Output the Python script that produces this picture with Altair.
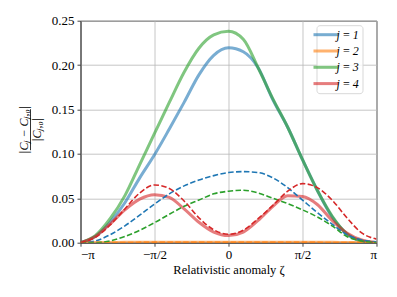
import altair as alt
import pandas as pd

# zeta in units of pi
zeta = [-1.0, -0.9, -0.8, -0.7, -0.6, -0.5, -0.4, -0.3, -0.2, -0.1, 0.0,
        0.1, 0.2, 0.3, 0.4, 0.5, 0.6, 0.7, 0.8, 0.9, 1.0]

labels = ["j\u2009=\u20091", "j\u2009=\u20092", "j\u2009=\u20093", "j\u2009=\u20094"]
colors = ["#1f77b4", "#ff7f0e", "#2ca02c", "#d62728"]

j1_solid = [0.0, 0.007, 0.023, 0.045, 0.073, 0.099, 0.128, 0.158, 0.189, 0.211, 0.2195,
            0.215, 0.197, 0.161, 0.130, 0.0935, 0.059, 0.029, 0.010, 0.002, 0.0]
j2_solid = [0.0, 0.0002, 0.0003, 0.0004, 0.0005, 0.0005, 0.0005, 0.0005, 0.0005, 0.0005, 0.0005,
            0.0005, 0.0005, 0.0005, 0.0005, 0.0005, 0.0005, 0.0004, 0.0003, 0.0002, 0.0]
j3_solid = [0.0, 0.008, 0.027, 0.053, 0.088, 0.123, 0.158, 0.192, 0.219, 0.234, 0.238,
            0.229, 0.197, 0.162, 0.130, 0.0935, 0.059, 0.030, 0.010, 0.002, 0.0]
j4_solid = [0.0, 0.007, 0.021, 0.037, 0.049, 0.054, 0.051, 0.038, 0.023, 0.012, 0.008,
            0.012, 0.025, 0.041, 0.053, 0.052, 0.043, 0.025, 0.011, 0.003, 0.0]

j1_dash = [0.0, 0.002, 0.009, 0.019, 0.031, 0.0435, 0.055, 0.064, 0.0705, 0.0755, 0.079,
           0.080, 0.079, 0.073, 0.062, 0.048, 0.034, 0.021, 0.009, 0.003, 0.001]
j2_dash = [0.0, 0.0001, 0.0002, 0.0002, 0.0003, 0.0003, 0.0003, 0.0003, 0.0003, 0.0003, 0.0003,
           0.0003, 0.0003, 0.0003, 0.0003, 0.0003, 0.0003, 0.0002, 0.0002, 0.0001, 0.0]
j3_dash = [0.0, 0.0, 0.002, 0.007, 0.014, 0.0225, 0.032, 0.041, 0.048, 0.055, 0.058,
           0.059, 0.056, 0.050, 0.044, 0.037, 0.029, 0.019, 0.007, 0.002, 0.0]
j4_dash = [0.0, 0.006, 0.020, 0.038, 0.056, 0.065, 0.061, 0.047, 0.028, 0.0145, 0.0095,
           0.014, 0.027, 0.042, 0.058, 0.0665, 0.062, 0.048, 0.028, 0.011, 0.004]

y_title_lines = ["|Cⱼ − Cⱼ,₀|", "|Cⱼ,₀|"]

solid_series = [j1_solid, j2_solid, j3_solid, j4_solid]
dash_series = [j1_dash, j2_dash, j3_dash, j4_dash]

solid_rows = []
dash_rows = []
for lab, col, s, d in zip(labels, colors, solid_series, dash_series):
    for i, z in enumerate(zeta):
        solid_rows.append({"zeta": z, "value": s[i], "series": lab})
        dash_rows.append({"zeta": z, "value": d[i], "dkey": lab, "dcolor": col})
solid_df = pd.DataFrame(solid_rows)
dash_df = pd.DataFrame(dash_rows)

SERIF = "Liberation Serif"

label_expr = ("datum.value == -1 ? '−π' : datum.value == -0.5 ? '−π/2' : "
              "datum.value == 0 ? '0' : datum.value == 0.5 ? 'π/2' : 'π'")

x_enc = alt.X("zeta:Q",
              scale=alt.Scale(domain=[-1, 1], nice=False, zero=False),
              axis=alt.Axis(values=[-1, -0.5, 0, 0.5, 1], labelExpr=label_expr,
                            titleFontSize=12.5, titlePadding=2, labelPadding=2,
                            title="Relativistic anomaly ζ"))
y_enc = alt.Y("value:Q",
              scale=alt.Scale(domain=[0, 0.25], nice=False),
              axis=alt.Axis(values=[0, 0.05, 0.10, 0.15, 0.20, 0.25], format=".2f",
                            labelPadding=3, title=None))

solid = alt.Chart(solid_df).mark_line(strokeWidth=3, opacity=0.6, interpolate="monotone", clip=True).encode(
    x=x_enc, y=y_enc,
    color=alt.Color("series:N", scale=alt.Scale(domain=labels, range=colors),
                    legend=alt.Legend(title=None, orient="none", legendX=236, legendY=4.5,
                                      symbolType="M-2.5,0H2.5", symbolSize=100,
                                      symbolStrokeWidth=3, symbolOpacity=0.6,
                                      labelOffset=4, padding=3, rowPadding=3.3,
                                      strokeColor="#d8d8d8", fillColor="rgba(255,255,255,0.8)",
                                      cornerRadius=3)),
)

dashed = alt.Chart(dash_df).mark_line(strokeWidth=1.6, strokeDash=[5.5, 2.4], interpolate="monotone", clip=True).encode(
    x="zeta:Q", y="value:Q",
    color=alt.Color("dcolor:N", scale=None),
    detail="dkey:N",
)

num = alt.Chart(pd.DataFrame({"t": [y_title_lines[0]]})).mark_text(
    angle=270, align="center", baseline="middle", font=SERIF, fontSize=12, fontStyle="italic", color="#000"
).encode(text="t:N", x=alt.value(-56.5), y=alt.value(109.3))

den = alt.Chart(pd.DataFrame({"t": [y_title_lines[1]]})).mark_text(
    angle=270, align="center", baseline="middle", font=SERIF, fontSize=12, fontStyle="italic", color="#000"
).encode(text="t:N", x=alt.value(-43.5), y=alt.value(109.3))

bar = alt.Chart(pd.DataFrame({"a": [0]})).mark_rule(color="#000", strokeWidth=0.8).encode(
    x=alt.value(-50), y=alt.value(88.5), y2=alt.value(129.5))

chart = alt.layer(solid, dashed, num, den, bar).properties(
    width=296, height=222,
    padding={"left": 72.5, "top": 12.7, "right": 12, "bottom": 40},
    autosize=alt.AutoSizeParams(type="none"),
).configure(font=SERIF).configure_view(stroke="#444", strokeWidth=1).configure_axis(
    labelFont=SERIF, titleFont=SERIF, labelFontSize=13,
    labelColor="#000", titleColor="#000",
    titleFontWeight="normal", grid=True, gridColor="#b8b8b8", gridWidth=0.8,
    domainColor="#444", tickColor="#444", tickSize=3.5,
).configure_legend(
    labelFont=SERIF, labelFontStyle="italic", labelFontSize=12, labelColor="#000",
)

chart.save("out.html", embed_options={"renderer": "svg", "actions": False})
